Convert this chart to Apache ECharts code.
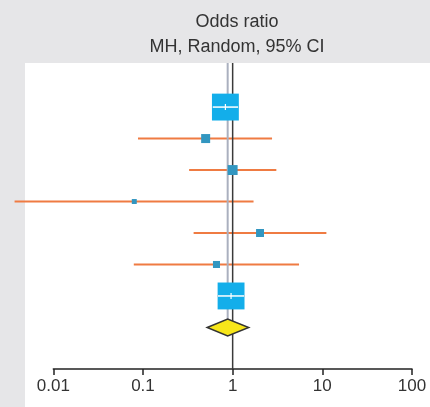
<!DOCTYPE html>
<html>
<head>
<meta charset="utf-8">
<script src="https://cdn.jsdelivr.net/npm/echarts@6/dist/echarts.min.js"></script>
<style>
html,body{margin:0;padding:0;background:#e6e6e8;}
#chart{width:430px;height:407px;}
</style>
</head>
<body>
<div id="chart"></div>
<script>
// ---- data ----
const studyRows = [1, 2, 3, 4, 5, 6, 7];
const studyOR = [0.83, 0.50, 1.00, 0.080, 2.02, 0.66, 0.96];
const studyLow = [0.60, 0.088, 0.327, 0.0037, 0.367, 0.079, 0.68];
const studyHigh = [1.15, 2.75, 3.07, 1.71, 11.1, 5.5, 1.35];
const studyWeight = [41, 4.6, 5.6, 1.4, 3.6, 2.8, 41];
const pooledRow = 8;
const pooledOR = 0.88;
const pooledLow = 0.52;
const pooledHigh = 1.51;
const nullValue = 1;
const tickLabels = ['0.01', '0.1', '1', '10', '100'];
const titleLines = ['Odds ratio', 'MH, Random, 95% CI'];

const studyData = studyRows.map((r, i) => [studyOR[i], r, studyLow[i], studyHigh[i], studyWeight[i]]);
const pooledData = [[pooledOR, pooledRow, pooledLow, pooledHigh]];

const chart = echarts.init(document.getElementById('chart'), null, {renderer: 'canvas'});
const ORANGE = '#ef7b42';
const BLUE = '#13aeea';
const SMALLBLUE = '#3296c0';
const DIAMOND_H = 17;

const option = {
  backgroundColor: '#e6e6e8',
  animation: false,
  title: {
    text: titleLines.join('\n'),
    left: 232,
    top: 5,
    textAlign: 'center',
    textStyle: {fontFamily: 'Liberation Sans', fontSize: 18, fontWeight: 'normal', color: '#333', lineHeight: 25}
  },
  graphic: [{
    type: 'rect', z: -10,
    shape: {x: 25, y: 63, width: 405, height: 344},
    style: {fill: '#ffffff'}
  }],
  grid: {left: 53.3, right: 18, top: 63, bottom: 38},
  xAxis: {
    type: 'log', logBase: 10, min: 0.01, max: 100, position: 'bottom',
    axisLine: {show: true, onZero: false, lineStyle: {color: '#222', width: 1.5}},
    axisTick: {show: true, inside: false, length: 6, lineStyle: {color: '#222', width: 1.5}},
    minorTick: {show: false},
    splitLine: {show: false},
    axisLabel: {
      color: '#333', fontSize: 17, fontFamily: 'Liberation Sans', margin: 9,
      formatter: function (v, idx) { return tickLabels[idx] !== undefined ? tickLabels[idx] : ''; }
    }
  },
  yAxis: {type: 'value', inverse: true, min: -0.4, max: 9.32, show: false},
  series: [
    { // CI lines
      type: 'custom', clip: false, z: 2,
      data: studyData,
      renderItem: function (params, api) {
        const y = api.value(1);
        const a = api.coord([api.value(2), y]);
        const b = api.coord([api.value(3), y]);
        return {type: 'line', shape: {x1: a[0], y1: a[1], x2: b[0], y2: b[1]},
          style: {stroke: ORANGE, lineWidth: 2}};
      }
    },
    { // reference lines
      type: 'custom', clip: false, z: 3,
      data: [[nullValue, pooledRow, pooledOR]],
      renderItem: function (params, api) {
        const cs = params.coordSys;
        const x1 = api.coord([api.value(0), 0])[0];
        const pc = api.coord([api.value(2), api.value(1)]);
        return {type: 'group', children: [
          {type: 'line', shape: {x1: pc[0], y1: cs.y, x2: pc[0], y2: pc[1] - DIAMOND_H / 2},
            style: {stroke: '#aab0bf', lineWidth: 2}},
          {type: 'line', shape: {x1: x1, y1: cs.y, x2: x1, y2: cs.y + cs.height},
            style: {stroke: '#3a3a3a', lineWidth: 1.5}}
        ]};
      }
    },
    { // squares
      type: 'custom', clip: false, z: 4,
      data: studyData,
      renderItem: function (params, api) {
        const y = api.value(1);
        const c = api.coord([api.value(0), y]);
        const s = 4.2 * Math.sqrt(api.value(4));
        const big = s > 15;
        const children = [{type: 'rect', shape: {x: c[0] - s / 2, y: c[1] - s / 2, width: s, height: s},
          style: {fill: big ? BLUE : SMALLBLUE}}];
        if (big) {
          const a = api.coord([api.value(2), y]);
          const b = api.coord([api.value(3), y]);
          const l = Math.max(a[0], c[0] - s / 2), r = Math.min(b[0], c[0] + s / 2);
          children.push({type: 'line', shape: {x1: l, y1: c[1], x2: r, y2: c[1]},
            style: {stroke: '#ffffff', lineWidth: 1.5}});
          children.push({type: 'line', shape: {x1: c[0], y1: c[1] - 3, x2: c[0], y2: c[1] + 3},
            style: {stroke: '#ffffff', lineWidth: 1.2}});
        }
        return {type: 'group', children: children};
      }
    },
    { // pooled diamond
      type: 'custom', clip: false, z: 5,
      data: pooledData,
      renderItem: function (params, api) {
        const y = api.value(1);
        const c = api.coord([api.value(0), y]);
        const a = api.coord([api.value(2), y]);
        const b = api.coord([api.value(3), y]);
        const h = DIAMOND_H / 2;
        return {type: 'polygon', shape: {points: [[a[0], c[1]], [c[0], c[1] - h], [b[0], c[1]], [c[0], c[1] + h]]},
          style: {fill: '#f7e61a', stroke: '#333', lineWidth: 1.5}};
      }
    }
  ]
};
chart.setOption(option);
</script>
</body>
</html>
